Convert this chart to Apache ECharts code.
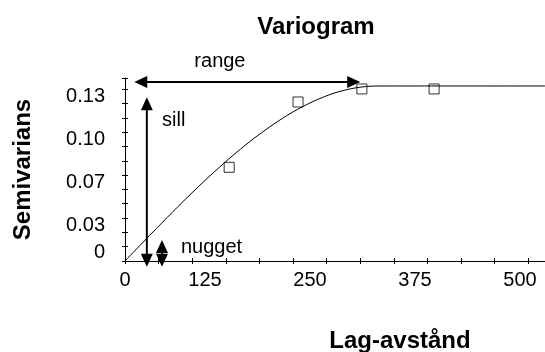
<!DOCTYPE html>
<html>
<head>
<meta charset="utf-8">
<script src="https://cdn.jsdelivr.net/npm/echarts@6/dist/echarts.min.js"></script>
<style>
  html, body { margin: 0; padding: 0; background: #fff; }
  #chart { width: 545px; height: 352px; }
</style>
</head>
<body>
<div id="chart"></div>
<script>
// Experimental semivariogram (lag distance, semivariance)
const lags = [124, 206, 282, 368];
const semivariance = [0.0727, 0.1234, 0.1335, 0.1335];

// Fitted model curve, sampled along the lag axis
const modelLags = [0, 25, 50, 75, 100, 125, 150, 175, 200, 225, 250, 275, 300, 500];
const modelValues = [0, 0.0169, 0.0336, 0.0499, 0.0654, 0.0800, 0.0934, 0.1053, 0.1157, 0.1241, 0.1305, 0.1344, 0.1358, 0.1358];

// Tick labels
const xTickValues = [0, 125, 250, 375, 500];
const yTickValues = [0, 1 / 30, 2 / 30, 3 / 30, 4 / 30];
const yTickLabels = ['0', '0.03', '0.07', '0.10', '0.13'];

// Double-headed arrows: [lag1, gamma1, lag2, gamma2]
const arrowNames = ['range', 'sill', 'nugget'];
const arrowEnds = [
  [11, 0.1389, 280, 0.1389],
  [26, -0.0044, 26, 0.1270],
  [44, -0.0044, 44, 0.0163]
];

// Annotation texts and their anchor points [lag, gamma]
const noteTexts = ['range', 'sill', 'nugget'];
const notePoints = [[113, 0.1547], [58, 0.1094], [103, 0.0103]];

const FONT = '"Liberation Sans", Arial, Helvetica, sans-serif';
const INK = '#000';

function renderArrow(params, api) {
  const a = api.coord([api.value(0), api.value(1)]);
  const b = api.coord([api.value(2), api.value(3)]);
  const dx = b[0] - a[0], dy = b[1] - a[1];
  const len = Math.hypot(dx, dy);
  const ux = dx / len, uy = dy / len;
  const nx = -uy, ny = ux;
  const L = 13, W = 6;
  const head = (tip, s) => ({
    type: 'polygon',
    shape: { points: [
      [tip[0], tip[1]],
      [tip[0] - s * ux * L + nx * W, tip[1] - s * uy * L + ny * W],
      [tip[0] - s * ux * L - nx * W, tip[1] - s * uy * L - ny * W]
    ] },
    style: { fill: INK }
  });
  return {
    type: 'group',
    children: [
      { type: 'line',
        shape: { x1: a[0] + ux * L * 0.5, y1: a[1] + uy * L * 0.5,
                 x2: b[0] - ux * L * 0.5, y2: b[1] - uy * L * 0.5 },
        style: { stroke: INK, lineWidth: 2 } },
      head(b, 1),
      head(a, -1)
    ]
  };
}

function renderNote(params, api) {
  const p = api.coord([api.value(0), api.value(1)]);
  return {
    type: 'text',
    x: p[0], y: p[1],
    style: {
      text: noteTexts[params.dataIndex],
      fill: INK,
      font: '20px ' + FONT,
      align: 'center',
      verticalAlign: 'middle'
    }
  };
}

const labelRichX = {
  z: { fontSize: 20, fontFamily: FONT, color: INK, lineHeight: 20 },
  s: { fontSize: 20, fontFamily: FONT, color: INK, lineHeight: 20, padding: [0, 50, 0, 0] }
};
const labelRichY = {
  z: { fontSize: 20, fontFamily: FONT, color: INK, lineHeight: 20, padding: [0, 0, 17, 0] },
  s: { fontSize: 20, fontFamily: FONT, color: INK, lineHeight: 20, padding: [15, 0, 0, 0] }
};

const chart = echarts.init(document.getElementById('chart'), null, { renderer: 'canvas' });

chart.setOption({
  animation: false,
  backgroundColor: '#fff',
  title: {
    text: 'Variogram',
    left: 316,
    top: 15,
    padding: 0,
    textAlign: 'center',
    textStyle: { fontSize: 24, fontWeight: 'bold', fontFamily: FONT, color: INK }
  },
  grid: { left: 125, right: 0, top: 78, bottom: 91, outerBoundsMode: 'none', containLabel: false },
  xAxis: [
    {
      type: 'value', position: 'bottom', min: 0, max: 500, interval: 40,
      axisLine: { show: true, lineStyle: { color: INK, width: 1 } },
      axisTick: { show: true, inside: true, length: 3, lineStyle: { color: INK } },
      splitLine: { show: false },
      axisLabel: {
        customValues: xTickValues,
        margin: 9,
        formatter: v => (v === 0 ? '{z|0}' : '{s|' + v + '}'),
        rich: labelRichX
      },
      name: 'Lag-avstånd',
      nameLocation: 'middle',
      nameGap: 68,
      nameTextStyle: { fontSize: 24, fontWeight: 'bold', fontFamily: FONT, color: INK, padding: [0, 0, 0, 130] }
    },
    {
      type: 'value', position: 'bottom', min: 0, max: 500, interval: 40,
      axisLine: { show: false },
      axisTick: { show: true, inside: false, length: 3, lineStyle: { color: INK } },
      axisLabel: { show: false },
      splitLine: { show: false }
    }
  ],
  yAxis: [
    {
      type: 'value', position: 'left', min: 0, max: 0.142, interval: 1 / 90,
      axisLine: { show: true, lineStyle: { color: INK, width: 1 } },
      axisTick: { show: true, inside: true, length: 3, lineStyle: { color: INK } },
      splitLine: { show: false },
      axisLabel: {
        customValues: yTickValues,
        margin: 20,
        formatter: v => {
          const i = yTickValues.findIndex(t => Math.abs(t - v) < 1e-6);
          const txt = i >= 0 ? yTickLabels[i] : String(v);
          return v === 0 ? '{z|' + txt + '}' : '{s|' + txt + '}';
        },
        rich: labelRichY
      },
      name: 'Semivarians',
      nameLocation: 'middle',
      nameRotate: 90,
      nameGap: 90,
      nameTextStyle: { fontSize: 24, fontWeight: 'bold', fontFamily: FONT, color: INK }
    },
    {
      type: 'value', position: 'left', min: 0, max: 0.142, interval: 1 / 90,
      axisLine: { show: false },
      axisTick: { show: true, inside: false, length: 3, lineStyle: { color: INK } },
      axisLabel: { show: false },
      splitLine: { show: false }
    }
  ],
  series: [
    {
      name: 'Modell',
      type: 'line',
      data: modelLags.map((x, i) => [x, modelValues[i]]),
      showSymbol: false,
      smooth: 0.3,
      lineStyle: { color: INK, width: 1 },
      z: 2
    },
    {
      name: 'Semivarians',
      type: 'scatter',
      data: lags.map((x, i) => [x, semivariance[i]]),
      symbol: 'rect',
      symbolSize: 10,
      itemStyle: { color: 'rgba(255,255,255,0)', borderColor: INK, borderWidth: 1 },
      z: 3
    },
    {
      name: 'Pilar',
      type: 'custom',
      clip: false,
      renderItem: renderArrow,
      data: arrowEnds.map((e, i) => ({ name: arrowNames[i], value: e })),
      encode: { x: [0, 2], y: [1, 3] },
      z: 4
    },
    {
      name: 'Texter',
      type: 'custom',
      clip: false,
      renderItem: renderNote,
      data: notePoints,
      encode: { x: 0, y: 1 },
      z: 4
    }
  ]
});
</script>
</body>
</html>
